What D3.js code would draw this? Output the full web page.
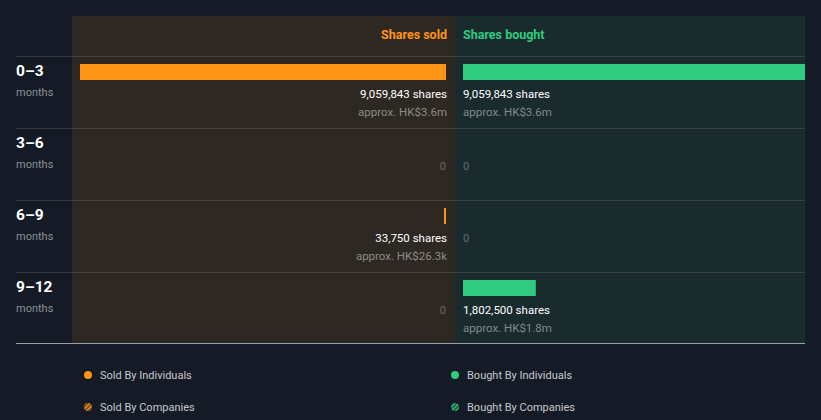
<!DOCTYPE html>
<html><head><meta charset="utf-8">
<script src="https://cdn.jsdelivr.net/npm/d3@7"></script>
<style>
html,body{margin:0;padding:0;background:#151b26;}
svg{display:block;font-family:Roboto,"Noto Sans",sans-serif;}
</style></head>
<body><svg id="c" width="821" height="420"></svg>
<script>
const periods = ["0–3", "3–6", "6–9", "9–12"];
const periodUnit = "months";
const soldShares = [9059843, 0, 33750, 0];
const soldValue = ["HK$3.6m", "", "HK$26.3k", ""];
const boughtShares = [9059843, 0, 0, 1802500];
const boughtValue = ["HK$3.6m", "", "", "HK$1.8m"];
const legendItems = ["Sold By Individuals", "Bought By Individuals", "Sold By Companies", "Bought By Companies"];

const svg = d3.select("#c");
const soldBg = "#2e2823", boughtBg = "#1a2b2e";
const orange = "#ff9417", green = "#2ecb80";
const chartTop = 16, headerH = 40, rowH = 72;
const leftX = 72, midX = 455, rightX = 805;

const y = d3.scaleBand().domain(periods).range([chartTop + headerH, chartTop + headerH + rowH * periods.length]);
const maxV = d3.max([...soldShares, ...boughtShares]);
const w = d3.scaleLinear().domain([0, maxV]).range([0, 366]);
const defs = svg.append("defs");
const bottomY = y.range()[1] - 1;

// panels
svg.append("rect").attr("x", leftX).attr("y", chartTop).attr("width", midX - leftX).attr("height", bottomY - chartTop).attr("fill", soldBg);
svg.append("rect").attr("x", midX).attr("y", chartTop).attr("width", rightX - midX).attr("height", bottomY - chartTop).attr("fill", boughtBg);

// headers
svg.append("text").attr("x", 447).attr("y", 39).attr("text-anchor", "end").attr("fill", orange)
  .attr("font-size", 12.5).attr("font-weight", 700).text("Shares sold");
svg.append("text").attr("x", 463).attr("y", 39).attr("fill", green)
  .attr("font-size", 12.5).attr("font-weight", 700).text("Shares bought");

// row separators
periods.forEach((p) => {
  svg.append("line").attr("x1", 16).attr("x2", rightX).attr("y1", y(p) + 0.5).attr("y2", y(p) + 0.5)
    .attr("stroke", "rgba(255,255,255,0.12)").attr("stroke-width", 1);
});
svg.append("line").attr("x1", 16).attr("x2", rightX).attr("y1", bottomY + 0.5).attr("y2", bottomY + 0.5)
  .attr("stroke", "#9aa0a8").attr("stroke-width", 1);

const fmt = d3.format(",");
const rows = svg.selectAll("g.row").data(periods).join("g").attr("class", "row")
  .attr("transform", d => `translate(0,${y(d)})`);

rows.append("text").attr("x", 16).attr("y", 20).attr("fill", "#ffffff").attr("font-size", 15.5).attr("font-weight", 700).text(d => d);
rows.append("text").attr("x", 16).attr("y", 40).attr("fill", "#8c9199").attr("font-size", 11).text(periodUnit);

rows.each(function (p, i) {
  const g = d3.select(this);
  const sv = soldShares[i];
  if (sv > 0) {
    const bw = Math.max(2, w(sv));
    g.append("rect").attr("x", 446 - bw).attr("y", 8).attr("width", bw).attr("height", 16).attr("fill", orange);
    g.append("text").attr("x", 447).attr("y", 42).attr("text-anchor", "end").attr("fill", "#ffffff").attr("font-size", 11.5).text(fmt(sv) + " shares");
    g.append("text").attr("x", 447).attr("y", 60).attr("text-anchor", "end").attr("fill", "#8c8a88").attr("font-size", 11.5).text("approx. " + soldValue[i]);
  } else {
    g.append("text").attr("x", 446).attr("y", 42).attr("text-anchor", "end").attr("fill", "#6b6761").attr("font-size", 11).text("0");
  }
  const bv = boughtShares[i];
  if (bv > 0) {
    const bw = Math.min(Math.max(2, w(bv)), rightX - 463);
    g.append("rect").attr("x", 463).attr("y", 8).attr("width", bw).attr("height", 16).attr("fill", green);
    g.append("text").attr("x", 463).attr("y", 42).attr("fill", "#ffffff").attr("font-size", 11.5).text(fmt(bv) + " shares");
    g.append("text").attr("x", 463).attr("y", 60).attr("fill", "#7f8a8a").attr("font-size", 11.5).text("approx. " + boughtValue[i]);
  } else {
    g.append("text").attr("x", 463).attr("y", 42).attr("fill", "#5f716f").attr("font-size", 11).text("0");
  }
});

// legend
const legendPos = [[88, 375], [455, 375], [88, 407], [455, 407]];
const pat1 = defs.append("pattern").attr("id", "hatchO").attr("patternUnits", "userSpaceOnUse").attr("width", 3).attr("height", 3).attr("patternTransform", "rotate(45)");
pat1.append("rect").attr("width", 3).attr("height", 3).attr("fill", "#4a3a22");
pat1.append("rect").attr("width", 1.5).attr("height", 3).attr("fill", orange);
const pat2 = defs.append("pattern").attr("id", "hatchG").attr("patternUnits", "userSpaceOnUse").attr("width", 3).attr("height", 3).attr("patternTransform", "rotate(45)");
pat2.append("rect").attr("width", 3).attr("height", 3).attr("fill", "#1d3a30");
pat2.append("rect").attr("width", 1.5).attr("height", 3).attr("fill", green);
const fills = [orange, green, "url(#hatchO)", "url(#hatchG)"];
legendItems.forEach((t, i) => {
  const [lx, ly] = legendPos[i];
  svg.append("circle").attr("cx", lx).attr("cy", ly).attr("r", 4).attr("fill", fills[i]);
  svg.append("text").attr("x", lx + 12).attr("y", ly + 4).attr("fill", "#c5c8cc").attr("font-size", 11).text(t);
});
</script></body></html>
